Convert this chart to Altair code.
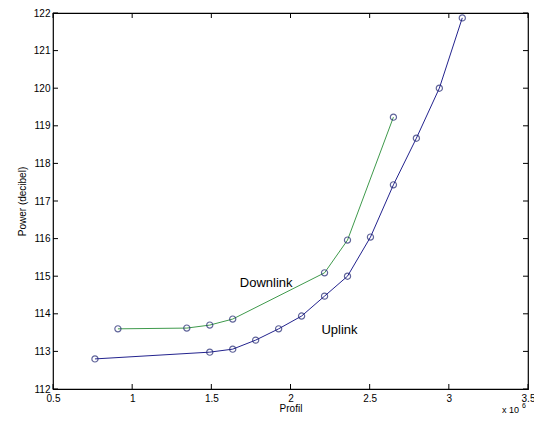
import altair as alt
import pandas as pd

# ---- data ----
up_x = [0.765, 1.49, 1.635, 1.78, 1.925, 2.07, 2.215, 2.36, 2.505, 2.65, 2.795, 2.94, 3.085]
up_y = [112.8, 112.98, 113.06, 113.3, 113.6, 113.94, 114.47, 115.0, 116.04, 117.43, 118.67, 120.0, 121.87]
down_x = [0.91, 1.345, 1.49, 1.635, 2.215, 2.36, 2.65]
down_y = [113.6, 113.62, 113.7, 113.86, 115.09, 115.96, 119.23]
series = ["Uplink", "Downlink"]
series_colors = ["#23238e", "#3f9a4c"]
marker_color = "#1e2470"

x_ticks = [0.5, 1, 1.5, 2, 2.5, 3, 3.5]
y_ticks = list(range(112, 123))

label_text = ["Downlink", "Uplink"]
label_x = [1.68, 2.195]
label_y = [114.82, 113.57]

exp_base = ["x 10"]
exp_power = ["6"]

x_title = "Profil"
y_title = "Power (decibel)"

W, H = 475, 376
TL = 5  # inward tick length
FONT = "Liberation Sans"

df = pd.DataFrame({
    "x": up_x + down_x,
    "y": up_y + down_y,
    "s": [series[0]] * len(up_x) + [series[1]] * len(down_x),
})
lab_df = pd.DataFrame({"x": label_x, "y": label_y, "t": label_text})
xt_df = pd.DataFrame({"v": x_ticks})
yt_df = pd.DataFrame({"v": y_ticks})

xs = alt.Scale(domain=[0.5, 3.5], nice=False, zero=False)
ys = alt.Scale(domain=[112, 122], nice=False, zero=False)

base = alt.Chart(df)

lines = base.mark_line(strokeWidth=1).encode(
    x=alt.X("x:Q", scale=xs, axis=alt.Axis(
        orient="bottom", values=x_ticks, format="~g", ticks=False, domain=False, grid=False,
        labelFlush=False, labelFont=FONT, labelFontSize=10, labelColor="black", labelPadding=4,
        title=x_title, titleFont=FONT, titleFontSize=10, titleFontWeight="normal",
        titleColor="black", titlePadding=0)),
    y=alt.Y("y:Q", scale=ys, axis=alt.Axis(
        orient="left", values=y_ticks, ticks=False, domain=False, grid=False,
        labelFlush=False, labelFont=FONT, labelFontSize=10, labelColor="black", labelPadding=3,
        title=y_title, titleFont=FONT, titleFontSize=10, titleFontWeight="normal",
        titleColor="black", titlePadding=6)),
    color=alt.Color("s:N", scale=alt.Scale(domain=series, range=series_colors), legend=None),
)

points = base.mark_point(shape="circle", filled=False, size=38, strokeWidth=1.2,
                         color=marker_color).encode(
    x=alt.X("x:Q", scale=xs, axis=None),
    y=alt.Y("y:Q", scale=ys, axis=None),
)

# inward tick marks on all four sides, positioned through the scales
xt = alt.Chart(xt_df)
yt = alt.Chart(yt_df)
tick_bottom = xt.mark_rule(color="black", strokeWidth=1).encode(
    x=alt.X("v:Q", scale=xs, axis=None), y=alt.value(H), y2=alt.value(H - TL))
tick_top = xt.mark_rule(color="black", strokeWidth=1).encode(
    x=alt.X("v:Q", scale=xs, axis=None), y=alt.value(0), y2=alt.value(TL))
tick_left = yt.mark_rule(color="black", strokeWidth=1).encode(
    y=alt.Y("v:Q", scale=ys, axis=None), x=alt.value(0), x2=alt.value(TL))
tick_right = yt.mark_rule(color="black", strokeWidth=1).encode(
    y=alt.Y("v:Q", scale=ys, axis=None), x=alt.value(W), x2=alt.value(W - TL))

labels = alt.Chart(lab_df).mark_text(font=FONT, fontSize=13, align="left",
                                     baseline="middle", color="black").encode(
    x=alt.X("x:Q", scale=xs, axis=None),
    y=alt.Y("y:Q", scale=ys, axis=None),
    text="t:N",
)

exp1 = alt.Chart(pd.DataFrame({"t": exp_base})).mark_text(
    font=FONT, fontSize=9, align="left", baseline="middle", color="black").encode(
    text="t:N", x=alt.value(W - 26), y=alt.value(H + 21))
exp2 = alt.Chart(pd.DataFrame({"t": exp_power})).mark_text(
    font=FONT, fontSize=7, align="left", baseline="middle", color="black").encode(
    text="t:N", x=alt.value(W - 6), y=alt.value(H + 17))

chart = alt.layer(lines, points, tick_bottom, tick_top, tick_left, tick_right,
                  labels, exp1, exp2).resolve_axis(
    x="independent", y="independent"
).properties(
    width=W, height=H,
    autosize=alt.AutoSizeParams(type="none"),
    padding={"left": 45, "top": 5, "right": 6, "bottom": 25},
    background="white",
).configure_view(stroke="black", strokeWidth=1.2)

chart.save("out.html", embed_options={"renderer": "svg", "actions": False})
